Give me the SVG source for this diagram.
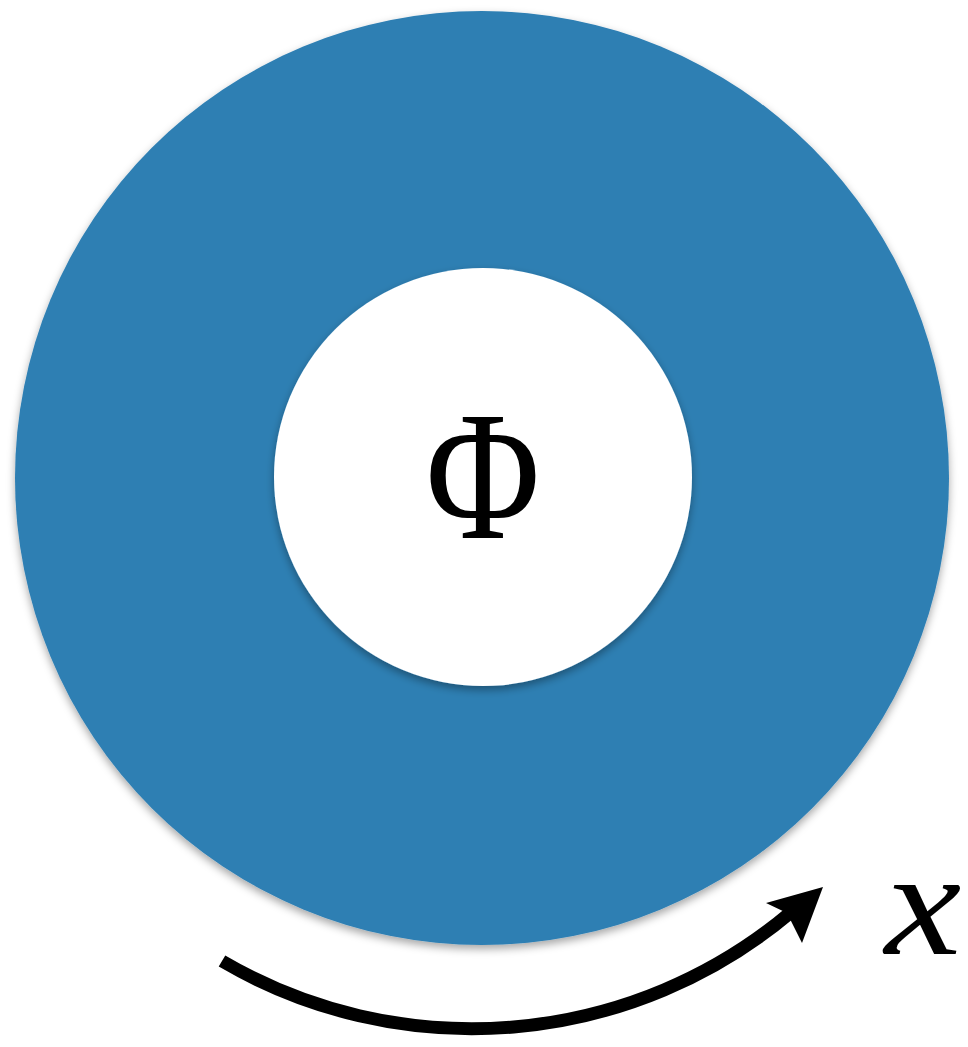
<svg xmlns="http://www.w3.org/2000/svg" width="968" height="1047" viewBox="0 0 968 1047">
<defs>
<filter id="sh" x="-10%" y="-10%" width="120%" height="120%">
<feDropShadow dx="0" dy="4" stdDeviation="4" flood-color="#000" flood-opacity="0.35"/>
</filter>
<style>
.math{font-family:"Liberation Serif","DejaVu Serif",serif;fill:#000}
</style>
</defs>
<rect width="968" height="1047" fill="#fff"/>
<g id="outer-disk"><circle cx="482" cy="478" r="467" fill="#2e7fb3" filter="url(#sh)"/></g>
<g id="inner-disk"><circle cx="483" cy="477" r="209" fill="#fff" filter="url(#sh)"/>
<text class="math" transform="translate(483 538) scale(0.85 1)" font-size="184" text-anchor="middle">Φ</text></g>
<g id="connectors">
<path d="M 222 961 A 495 495 0 0 0 790 913" fill="none" stroke="#000" stroke-width="13"/>
<polygon points="823,887 766,903 787,913 802,943" fill="#000"/>
</g>
<g id="label-x"><text class="math" transform="translate(923 954) scale(1.15 1)" font-size="150" font-style="italic" text-anchor="middle">x</text></g>
</svg>
